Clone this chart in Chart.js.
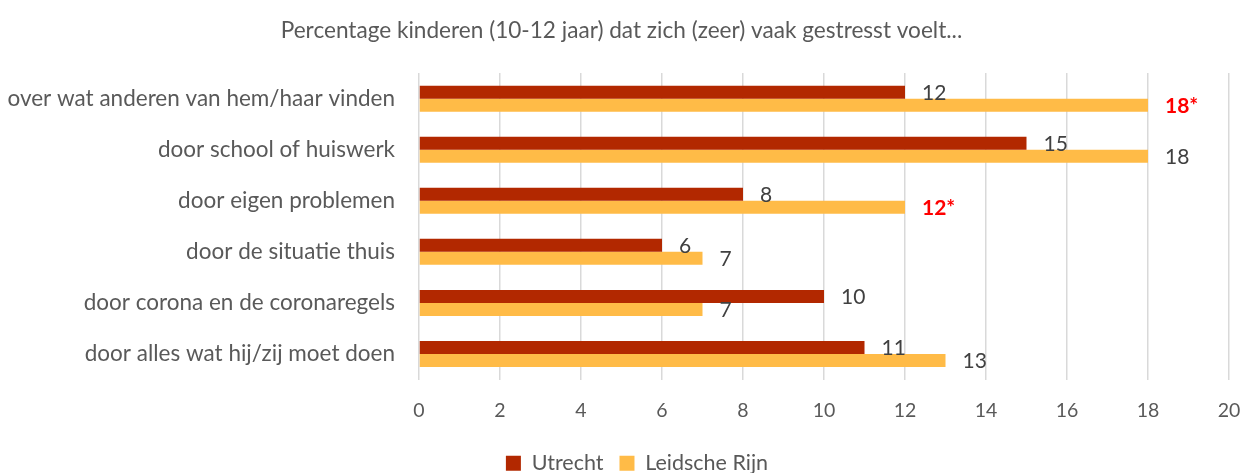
<!DOCTYPE html>
<html><head><meta charset="utf-8">
<script src="https://cdn.jsdelivr.net/npm/chart.js@4.4.1/dist/chart.umd.min.js"></script>
<style>html,body{margin:0;padding:0;background:#fff}canvas{display:block}</style>
</head><body>
<canvas id="c" width="1243" height="473"></canvas>
<script>
const categories = [
  "over wat anderen van hem/haar vinden",
  "door school of huiswerk",
  "door eigen problemen",
  "door de situatie thuis",
  "door corona en de coronaregels",
  "door alles wat hij/zij moet doen"
];
const utrecht = [12, 15, 8, 6, 10, 11];
const leidscheRijn = [18, 18, 12, 7, 7, 13];
const leidscheSignificant = [true, false, true, false, false, false];
const xTicks = [0, 2, 4, 6, 8, 10, 12, 14, 16, 18, 20];
const titleText = "Percentage kinderen (10-12 jaar) dat zich (zeer) vaak gestresst voelt...";

const FONT = "Lato";
const labelPlugin = {
  id: 'barLabels',
  afterLayout(chart) {
    const lg = chart.legend;
    if (lg) { lg.top += 11; lg.bottom += 11; lg.left += 31; }
  },
  afterDatasetsDraw(chart) {
    const ctx = chart.ctx;
    ctx.save();
    ctx.textAlign = 'left';
    ctx.textBaseline = 'middle';
    chart.data.datasets.forEach((ds, di) => {
      const meta = chart.getDatasetMeta(di);
      meta.data.forEach((bar, i) => {
        const sig = di === 1 && leidscheSignificant[i];
        ctx.font = (sig ? 'bold ' : '') + '21px ' + FONT;
        ctx.fillStyle = sig ? '#FF0000' : '#404040';
        ctx.fillText(ds.data[i] + (sig ? '*' : ''), bar.x + 17, bar.y + 1);
      });
    });
    ctx.restore();
  }
};

new Chart(document.getElementById('c'), {
  type: 'bar',
  data: {
    labels: categories,
    datasets: [
      { label: 'Utrecht', data: utrecht, backgroundColor: '#B22800' },
      { label: 'Leidsche Rijn', data: leidscheRijn, backgroundColor: '#FFBB47' }
    ]
  },
  options: {
    indexAxis: 'y',
    responsive: false,
    animation: false,
    categoryPercentage: 0.51,
    barPercentage: 1,
    layout: { padding: { left: 0, right: 0, top: 0, bottom: 0 } },
    scales: {
      x: {
        min: 0, max: 20,
        afterBuildTicks(s) { s.ticks = xTicks.map(v => ({ value: v })); },
        afterFit(s) { s.height = 46; s.paddingRight = 14; s.paddingLeft = 0; },
        grid: { color: '#D9D9D9', lineWidth: 1.5, drawTicks: false },
        border: { display: false },
        ticks: { padding: 20, color: '#595959', font: { family: FONT, size: 19.5 } }
      },
      y: {
        grid: { display: false },
        border: { display: false },
        afterFit(s) { s.width = 419; },
        ticks: { padding: 16, color: '#595959', font: { family: FONT, size: 22.5 } }
      }
    },
    plugins: {
      title: {
        display: true, text: titleText, color: '#595959',
        font: { family: FONT, size: 22.6, weight: 'normal' },
        padding: { top: 17, bottom: 29 }
      },
      legend: {
        position: 'bottom',
        labels: { color: '#595959', boxWidth: 15, boxHeight: 15, padding: 16, font: { family: FONT, size: 21.5 } }
      },
      tooltip: { enabled: false }
    }
  },
  plugins: [labelPlugin]
});
</script>
</body></html>
